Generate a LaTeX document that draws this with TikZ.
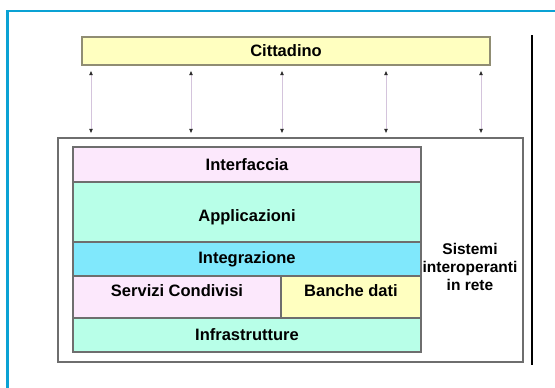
\documentclass[tikz,border=0pt]{standalone}
\usepackage{fontspec}
\setmainfont{Liberation Sans}
\usetikzlibrary{arrows.meta}
\definecolor{frameblue}{HTML}{0AA2D4}
\definecolor{pinkbg}{HTML}{FCE8FC}
\definecolor{mintbg}{HTML}{B8FFE8}
\definecolor{cyanbg}{HTML}{80E8FC}
\definecolor{yellowbg}{HTML}{FFFFC0}
\definecolor{edgegray}{HTML}{6E6E6E}
\definecolor{linkpink}{HTML}{D4C4DC}
\begin{document}
\begin{tikzpicture}[x=1pt,y=-1pt,
  layer/.style={draw=edgegray,line width=1.2pt,inner sep=0pt,font=\fontsize{16.5}{19}\selectfont\bfseries},
  link/.style={linkpink,line width=0.8pt,{Latex[length=4.5pt,width=4pt,color=black!85]}-{Latex[length=4.5pt,width=4pt,color=black!85]}}]
\useasboundingbox (0,0) rectangle (555,388);
% page frame and side rule
\draw[frameblue,line width=2.2pt] (7.5,388) -- (7.5,11) -- (555,11);
\draw[line width=1.3pt] (532,35) -- (532,365);
% citizen bar
\node[layer,draw=gray!80!olive,fill=yellowbg,minimum width=408pt,minimum height=28pt] (cit) at (286,51) {Cittadino};
% outer system box
\node[draw=edgegray,line width=1.3pt,minimum width=465pt,minimum height=224pt] (sys) at (290.5,250) {};
% layered stack
\node[layer,fill=pinkbg,minimum width=348pt,minimum height=35pt] (intf) at (247,164.5) {Interfaccia};
\node[layer,fill=mintbg,minimum width=348pt,minimum height=60pt,text height=22pt] (app) at (247,212) {Applicazioni};
\node[layer,fill=cyanbg,minimum width=348pt,minimum height=34pt] (integr) at (247,259) {Integrazione};
\node[layer,fill=pinkbg,minimum width=208pt,minimum height=42pt,text depth=12pt] (serv) at (177,297) {Servizi Condivisi};
\node[layer,fill=yellowbg,minimum width=140pt,minimum height=42pt,text depth=12pt] (bdati) at (351,297) {Banche dati};
\node[layer,fill=mintbg,minimum width=348pt,minimum height=34pt] (infra) at (247,335) {Infrastrutture};
\node[font=\fontsize{15.5}{18}\selectfont\bfseries,align=center] (rete) at (470,267) {Sistemi\\interoperanti\\in rete};
% links between citizen and systems
\foreach \xx in {91,191,282,386,481} {\draw[link,shorten <=5pt,shorten >=4pt] (cit.south -| \xx,0) -- (sys.north -| \xx,0);}
\end{tikzpicture}
\end{document}
